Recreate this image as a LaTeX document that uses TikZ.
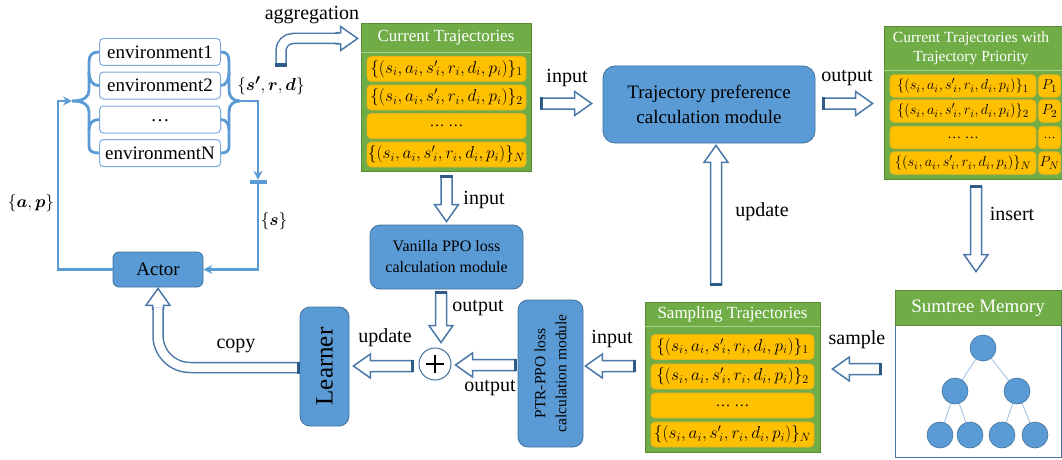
\documentclass[tikz,border=0pt]{standalone}
\usepackage{amsmath,bm}
\usepackage{fontspec}
\setmainfont{Liberation Serif}
\usetikzlibrary{arrows.meta,calc}
\definecolor{bluef}{HTML}{5B9BD5}
\definecolor{boxline}{HTML}{41719C}
\definecolor{greenf}{HTML}{70AD47}
\definecolor{greenline}{HTML}{5A8C38}
\definecolor{greensep}{HTML}{A9D18E}
\definecolor{rowf}{HTML}{FFC000}
\definecolor{rowline}{HTML}{E8B020}
\definecolor{arrline}{HTML}{4A78A8}
\definecolor{capc}{HTML}{2F5B88}
\definecolor{loopc}{HTML}{5B9BD5}
\definecolor{envline}{HTML}{7FAADB}
\definecolor{treeline}{HTML}{A9C8E8}
\newcommand{\fsz}[2]{\fontsize{#1}{#2}\selectfont}
\newcommand{\traj}[1]{$\{(s_i,a_i,{s'}_{\!i},r_i,d_i,p_i)\}_{#1}$}
\tikzset{
  bluebox/.style={draw=boxline, line width=0.8pt, fill=bluef, rounded corners=10pt, inner sep=0pt},
  envbox/.style={draw=envline, line width=1pt, fill=white, rounded corners=4pt, minimum width=121pt, minimum height=27pt, inner sep=0pt, font=\fsz{19}{22}},
  greenbox/.style={draw=greenline, line width=0.8pt, fill=greenf, inner sep=0pt},
  rowbox/.style={draw=rowline, line width=0.6pt, fill=rowf, rounded corners=4pt, inner sep=0pt},
  hollowline/.style={draw=arrline, line width=1.5pt, fill=white, line join=miter},
  bentshaft/.style={draw=arrline, line width=1.5pt, double=white, double distance=8.5pt},
  tailcap/.style={draw=capc, line width=3.5pt},
  lbl/.style={font=\fsz{20}{24}, inner sep=0pt},
  hdr/.style={text=white, inner sep=0pt},
  loop/.style={draw=loopc, line width=2.8pt},
  tip/.style={-{Stealth[length=9pt,width=9pt]}},
  treenode/.style={circle, draw=boxline, line width=0.6pt, fill=bluef, minimum size=26pt, inner sep=0pt},
}
% hollow block arrow: #1 name, #2 tail point, #3 tip point, #4 1 = with tail cap
\newcommand{\hollow}[4]{%
  \coordinate (#1-a) at #2;
  \coordinate (#1-b) at #3;
  \coordinate (#1-h) at ($(#1-b)!17pt!(#1-a)$);
  \draw[hollowline] ($(#1-a)!5.5pt!90:(#1-b)$) -- ($(#1-h)!5.5pt!90:(#1-b)$) -- ($(#1-h)!12pt!90:(#1-b)$) -- (#1-b)
     -- ($(#1-h)!12pt!-90:(#1-b)$) -- ($(#1-h)!5.5pt!-90:(#1-b)$) -- ($(#1-a)!5.5pt!-90:(#1-b)$) -- cycle;
  \ifnum#4=1 \draw[tailcap] ($(#1-a)!6.3pt!90:(#1-b)$) -- ($(#1-a)!6.3pt!-90:(#1-b)$);\fi}
\begin{document}
\begin{tikzpicture}[x=1pt,y=-1pt]
\useasboundingbox (0,0) rectangle (1062,460);

% ---------- environments ----------
\node[envbox] (env1) at (160,52) {environment1};
\node[envbox] (env2) at (160,85.5) {environment2};
\node[envbox] (env3) at (160,119.5) {\raisebox{-4pt}{\dots}};
\node[envbox] (envN) at (160,153) {environmentN};
\coordinate (ltip) at (72,101);
\coordinate (rtip) at (240,101);
\coordinate (rbend) at (258,101);
\coordinate (lbend) at (58,101);

% braces
\draw[loop] (env1.west) .. controls (92,52) and (89,55) .. (89,62) -- (89,90) .. controls (89,97) and (84,101) .. (ltip);
\draw[loop] (ltip) .. controls (84,101) and (89,105) .. (89,112) -- (89,146) .. controls (89,151) and (92,153) .. (envN.west);
\draw[loop] (89,72) .. controls (89,80) and (92,85.5) .. (env2.west);
\draw[loop] (89,130) .. controls (89,124) and (92,119.5) .. (env3.west);
\draw[loop] (env1.east) .. controls (227,52) and (229,55) .. (229,62) -- (229,90) .. controls (229,97) and (233,101) .. (rtip);
\draw[loop] (rtip) .. controls (233,101) and (229,105) .. (229,112) -- (229,146) .. controls (229,151) and (227,153) .. (envN.east);
\draw[loop] (229,72) .. controls (229,80) and (226,85.5) .. (env2.east);
\draw[loop] (229,130) .. controls (229,124) and (226,119.5) .. (env3.east);

% actor and loop
\node[bluebox, rounded corners=6pt, minimum width=90pt, minimum height=35pt, font=\fsz{19}{22}] (actor) at (158,269.5) {Actor};
\node[fill=loopc, minimum width=17pt, minimum height=4pt, inner sep=0pt] (bar) at (258,182) {};
\draw[loop, tip] (actor.west) -| (lbend) -- (ltip);
\draw[loop, tip] (rtip) -- (rbend) -- (bar.north);
\draw[loop, tip] (bar.south) |- (actor.east);
\node[font=\fsz{19}{22}] (lab-ap) at (31,203) {$\{\bm{a},\bm{p}\}$};
\node[font=\fsz{19}{22}] (lab-s) at (274,221) {$\{\bm{s}\}$};
\node[font=\fsz{19}{22}] (lab-srd) at (271,86) {$\{\bm{s'},\bm{r},\bm{d}\}$};

% ---------- current trajectories ----------
\node[greenbox, minimum width=170pt, minimum height=148pt] (ct) at (446,97) {};
\node[hdr, font=\fsz{17}{20}] (ct-h) at (446,38) {Current Trajectories};
\draw[greensep, line width=0.8pt] (ct.west |- 0,52) -- (ct.east |- 0,52);
\node[rowbox, minimum width=159pt, minimum height=25pt, font=\fsz{17.5}{20}] (ct1) at (446.5,69) {\traj{1}};
\node[rowbox, minimum width=159pt, minimum height=25pt, font=\fsz{17.5}{20}] (ct2) at (446.5,97.5) {\traj{2}};
\node[rowbox, minimum width=159pt, minimum height=25pt, font=\fsz{15}{18}] (ct3) at (446.5,126) {\dots\ \dots};
\node[rowbox, minimum width=159pt, minimum height=25pt, font=\fsz{17.5}{20}] (ct4) at (446.5,154.5) {\traj{N}};

% ---------- trajectory preference module ----------
\node[bluebox, rounded corners=12pt, minimum width=212pt, minimum height=77pt, align=center, font=\fsz{19}{25}] (tp) at (709,104.5) {Trajectory preference\\calculation module};

% ---------- current trajectories with priority ----------
\node[greenbox, minimum width=178pt, minimum height=153pt] (cp) at (973,102.5) {};
\node[hdr, align=center, font=\fsz{15.5}{19}] (cp-h) at (971,48.5) {Current Trajectories with\\Trajectory Priority};
\draw[greensep, line width=0.8pt] (cp.west |- 0,70) -- (cp.east |- 0,70);
\foreach \i/\y/\t/\p in {1/86/\traj{1}/$P_1$, 2/111/\traj{2}/$P_2$, 4/163/\traj{N}/$P_N$}{
  \node[rowbox, minimum width=146pt, minimum height=22.5pt, font=\fsz{15}{18}] (cpl\i) at (963,\y) {\t};
  \node[rowbox, minimum width=22pt, minimum height=22.5pt, font=\fsz{15}{18}] (cpr\i) at (1049.5,\y) {\p};
}
\node[rowbox, minimum width=146pt, minimum height=22.5pt, font=\fsz{14}{17}] (cpl3) at (963,137.5) {\dots\ \dots};
\node[rowbox, minimum width=22pt, minimum height=22.5pt, font=\fsz{12}{14}] (cpr3) at (1049.5,137.5) {\dots};

% ---------- vanilla PPO ----------
\node[bluebox, minimum width=153pt, minimum height=64pt, align=center, font=\fsz{16}{21}] (vp) at (446.5,257) {Vanilla PPO loss\\calculation module};

% ---------- plus ----------
\node[circle, draw=boxline, line width=1pt, fill=white, minimum size=32pt, inner sep=0pt] (plus) at (435,364) {};
\draw[line width=1.3pt] ($(plus.center)+(-9,0)$) -- ($(plus.center)+(9,0)$);
\draw[line width=1.3pt] ($(plus.center)+(0,-9)$) -- ($(plus.center)+(0,9)$);

% ---------- learner ----------
\node[bluebox, minimum width=49pt, minimum height=119pt] (learner) at (324.5,366.5) {};
\node[rotate=90, font=\fsz{25}{28}] (learner-t) at (learner) {Learner};

% ---------- PTR-PPO ----------
\node[bluebox, minimum width=65pt, minimum height=147pt] (ptr) at (550.5,373.5) {};
\node[rotate=90, align=center, font=\fsz{15.5}{21}] (ptr-t) at (ptr) {PTR-PPO loss\\calculation module};

% ---------- sampling trajectories ----------
\node[greenbox, minimum width=175pt, minimum height=150pt] (st) at (732.5,377) {};
\node[hdr, font=\fsz{17}{20}] (st-h) at (732.5,314) {Sampling Trajectories};
\draw[greensep, line width=0.8pt] (st.west |- 0,326) -- (st.east |- 0,326);
\node[rowbox, minimum width=163pt, minimum height=25pt, font=\fsz{17.5}{20}] (st1) at (732.5,347) {\traj{1}};
\node[rowbox, minimum width=163pt, minimum height=25pt, font=\fsz{17.5}{20}] (st2) at (732.5,376.5) {\traj{2}};
\node[rowbox, minimum width=163pt, minimum height=25pt, font=\fsz{15}{18}] (st3) at (732.5,405.5) {\dots\ \dots};
\node[rowbox, minimum width=163pt, minimum height=25pt, font=\fsz{17.5}{20}] (st4) at (732.5,434.5) {\traj{N}};

% ---------- sumtree ----------
\node[draw=boxline, line width=0.8pt, fill=white, minimum width=166pt, minimum height=167pt, inner sep=0pt] (sm) at (978,373.5) {};
\node[greenbox, minimum width=166pt, minimum height=35pt] (sm-hbox) at (978,307.5) {};
\node[hdr, font=\fsz{19}{22}] (sm-h) at (978,308) {Sumtree\ Memory};
\draw[treeline, line width=1pt] (983,348) -- (955,391) (983,348) -- (1017,391) (955,391) -- (940,435) (955,391) -- (970,435) (1017,391) -- (1002,435) (1017,391) -- (1035,435);
\node[treenode] (r0) at (983,348) {};
\node[treenode] (a1) at (955,391) {};
\node[treenode] (a2) at (1017,391) {};
\node[treenode] (b1) at (940,435) {};
\node[treenode] (b2) at (970,435) {};
\node[treenode] (b3) at (1002,435) {};
\node[treenode] (b4) at (1035,435) {};

% ---------- hollow arrows ----------
\hollow{h1}{($(ct.east)+(10,6.5)$)}{($(tp.west)+(-11,-1)$)}{1}
\hollow{h2}{($(tp.east)+(8,-1)$)}{($(cp.west)+(-11,1)$)}{1}
\hollow{h3}{($(ct.south)+(0.5,5)$)}{($(vp.north)+(0,-3)$)}{1}
\hollow{h4}{($(vp.south)+(-5.5,3)$)}{($(plus.north)+(6,-5)$)}{1}
\hollow{h5}{($(ptr.west)+(-2,-8.5)$)}{($(plus.east)+(4,1)$)}{1}
\hollow{h6}{($(plus.west)+(-6,2)$)}{($(learner.east)+(4,-0.5)$)}{1}
\hollow{h7}{($(st.west)+(-10,-11)$)}{($(ptr.east)+(2,-7.5)$)}{1}
\hollow{h8}{($(tp.south |- st.north)+(7,-17)$)}{($(tp.south)+(7,2)$)}{1}
\hollow{h9}{($(cp.south)+(3,7)$)}{($(sm.north)+(-2,-18)$)}{1}
\hollow{h10}{($(sm.west)+(-14,-4.5)$)}{($(st.east)+(12,-8)$)}{1}

% aggregation (bent)
\hollow{agg}{(336,38.5)}{($(ct.west |- 0,38.5)+(-3,0)$)}{0}
\draw[bentshaft, rounded corners=12pt] (281,65) -- (281,38.5) -- ($(agg-a)+(2,0)$);
\draw[tailcap] (275,65) -- (287,65);

% copy (bent)
\hollow{cpy}{($(actor.south)+(0,22)$)}{($(actor.south)+(0,1)$)}{0}
\draw[bentshaft, rounded corners=32pt] (learner.west |- 0,367.5) -- (cpy-a |- 0,367.5) -- ($(cpy-a)+(0,-2)$);
\draw[tailcap] ($(learner.west |- 0,367.5)+(-1,-6)$) -- ($(learner.west |- 0,367.5)+(-1,6)$);

% ---------- labels ----------
\node[lbl] (l-agg) at (312,15) {aggregation};
\node[lbl] (l-in1) at (567,78) {input};
\node[lbl] (l-out1) at (847,78) {output};
\node[lbl] (l-in2) at (484,200) {input};
\node[lbl] (l-out2) at (478,308) {output};
\node[lbl] (l-out3) at (490,388) {output};
\node[lbl] (l-upd1) at (385,338) {update};
\node[lbl] (l-in3) at (612,339) {input};
\node[lbl] (l-upd2) at (762,212) {update};
\node[lbl] (l-ins) at (1012,214) {insert};
\node[lbl] (l-smp) at (857,340) {sample};
\node[lbl] (l-cpy) at (236,346) {copy};
\end{tikzpicture}
\end{document}
